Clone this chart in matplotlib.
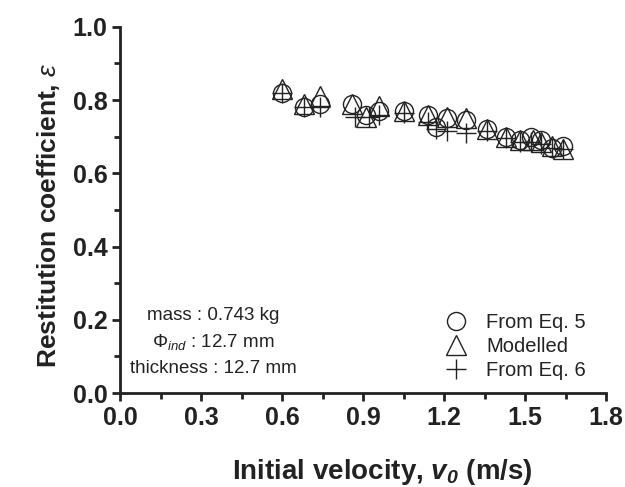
import matplotlib
matplotlib.use("Agg")
import matplotlib.pyplot as plt
from matplotlib.ticker import MultipleLocator

plt.rcParams['font.family'] = ['Liberation Sans', 'DejaVu Sans']
plt.rcParams['mathtext.fontset'] = 'custom'
plt.rcParams['mathtext.rm'] = 'Liberation Sans'
plt.rcParams['mathtext.it'] = 'Liberation Sans:italic'
plt.rcParams['mathtext.bf'] = 'Liberation Sans:bold'
plt.rcParams['mathtext.bfit'] = 'Liberation Sans:italic:bold'

# From Eq. 5 (circles)
v_eq5 = [0.60, 0.68, 0.74, 0.86, 0.91, 0.96, 1.05, 1.14, 1.17, 1.21, 1.28, 1.36, 1.43, 1.48, 1.52, 1.56, 1.60, 1.64]
e_eq5 = [0.82, 0.78, 0.79, 0.79, 0.76, 0.77, 0.77, 0.76, 0.725, 0.75, 0.745, 0.72, 0.70, 0.69, 0.70, 0.69, 0.67, 0.675]

# Modelled (triangles)
v_mod = [0.60, 0.68, 0.74, 0.86, 0.91, 0.96, 1.05, 1.14, 1.21, 1.28, 1.36, 1.43, 1.48, 1.53, 1.56, 1.60, 1.64]
e_mod = [0.83, 0.79, 0.81, 0.79, 0.755, 0.785, 0.77, 0.76, 0.755, 0.75, 0.72, 0.70, 0.69, 0.69, 0.685, 0.675, 0.665]

# From Eq. 6 (plus)
v_eq6 = [0.60, 0.68, 0.74, 0.87, 0.92, 0.96, 1.05, 1.14, 1.17, 1.21, 1.28, 1.36, 1.43, 1.48, 1.52, 1.56, 1.60, 1.64]
e_eq6 = [0.82, 0.78, 0.78, 0.755, 0.755, 0.76, 0.765, 0.74, 0.72, 0.715, 0.71, 0.715, 0.695, 0.685, 0.685, 0.68, 0.67, 0.665]

fig = plt.figure(figsize=(6.25, 4.87), dpi=100)
ax = fig.add_axes([0.192, 0.193, 0.778, 0.752])

ax.plot(v_eq5, e_eq5, 'o', ms=13, mfc='none', mec='#222222', mew=1.0, label='From Eq. 5')
ax.plot(v_mod, e_mod, '^', ms=14, mfc='none', mec='#222222', mew=1.0, label='Modelled')
ax.plot(v_eq6, e_eq6, '+', ms=14, mec='#222222', mew=1.0, label='From Eq. 6')

ax.set_xlim(0, 1.8)
ax.set_ylim(0, 1.0)
ax.xaxis.set_major_locator(MultipleLocator(0.3))
ax.xaxis.set_minor_locator(MultipleLocator(0.15))
ax.yaxis.set_major_locator(MultipleLocator(0.2))
ax.yaxis.set_minor_locator(MultipleLocator(0.1))
ax.xaxis.set_major_formatter(plt.FormatStrFormatter('%.1f'))
ax.yaxis.set_major_formatter(plt.FormatStrFormatter('%.1f'))

for s in ['top', 'right']:
    ax.spines[s].set_visible(False)
for s in ['left', 'bottom']:
    ax.spines[s].set_linewidth(2)
    ax.spines[s].set_color('#222222')

ax.tick_params(which='major', direction='out', length=6, width=2, colors='#222222',
               labelsize=18, pad=3)
ax.tick_params(which='minor', direction='out', length=4, width=2, colors='#222222')
for lab in ax.get_xticklabels() + ax.get_yticklabels():
    lab.set_fontweight('bold')

ax.set_xlabel(r'Initial velocity, $\mathbfit{v}_{\mathbfit{0}}$ (m/s)', fontsize=20,
              fontweight='bold', color='#222222')
ax.xaxis.set_label_coords(0.54, -0.175)
ax.set_ylabel(r'Restitution coefficient, $\varepsilon$', fontsize=19,
              fontweight='bold', color='#222222')
ax.yaxis.set_label_coords(-0.12, 0.485)

ax.text(0.192, 0.213, 'mass : 0.743 kg', transform=ax.transAxes, ha='center', va='center',
        fontsize=13.5, color='#222222')
ax.text(0.192, 0.139, r'$\Phi_{ind}$ : 12.7 mm', transform=ax.transAxes, ha='center',
        va='center', fontsize=13.5, color='#222222')
ax.text(0.192, 0.068, 'thickness : 12.7 mm', transform=ax.transAxes, ha='center',
        va='center', fontsize=13.5, color='#222222')

leg = ax.legend(loc='lower right', bbox_to_anchor=(0.975, 0.014), frameon=False,
                fontsize=14.5, handletextpad=0.9, labelspacing=0.25, borderaxespad=0,
                handlelength=1.2)
for t in leg.get_texts():
    t.set_color('#222222')

fig.savefig('out.png', dpi=100)
